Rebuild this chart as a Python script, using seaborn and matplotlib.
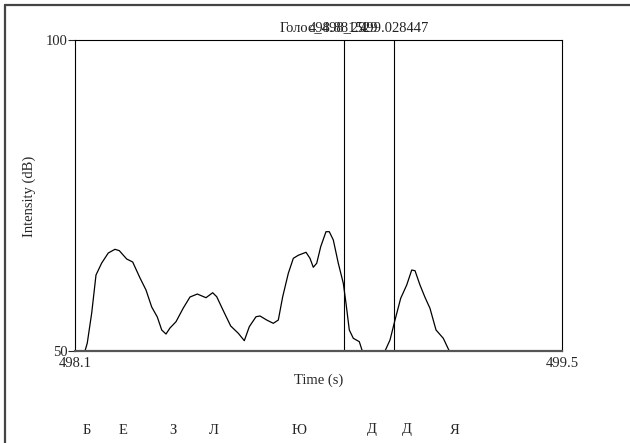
import matplotlib
matplotlib.use("Agg")
import matplotlib.pyplot as plt
from matplotlib.lines import Line2D
import seaborn as sns

# Intensity contour (time in s, intensity in dB)
time_s = [498.0911, 498.1205, 498.1272, 498.1402, 498.1528, 498.1696, 498.1889, 498.2086,
          498.2213, 498.2430, 498.2606, 498.2821, 498.2997, 498.3165, 498.3329, 498.3459,
          498.3585, 498.3702, 498.3879, 498.4093, 498.4290, 498.4505, 498.4760, 498.4957,
          498.5075, 498.5269, 498.5486, 498.5709, 498.5886, 498.6033, 498.6230, 498.6347,
          498.6544, 498.6738, 498.6885, 498.7014, 498.7179, 498.7326, 498.7472, 498.7699,
          498.7816, 498.7913, 498.8013, 498.8131, 498.8286, 498.8383, 498.8501, 498.8648,
          498.8795, 498.8874, 498.8971, 498.9089, 498.9265, 498.9353, 499.0020, 499.0167,
          499.0314, 499.0481, 499.0658, 499.0805, 499.0902, 499.1048, 499.1195, 499.1342,
          499.1519, 499.1733, 499.1909, 499.5221]
intensity_db = [50.0, 50.0, 51.29, 56.11, 62.22, 64.15, 65.76, 66.35,
                66.13, 64.79, 64.31, 61.74, 59.81, 57.07, 55.47, 53.38,
                52.73, 53.70, 54.71, 56.91, 58.68, 59.16, 58.57, 59.37,
                58.73, 56.48, 54.02, 52.85, 51.66, 53.91, 55.51, 55.63,
                54.98, 54.45, 54.98, 58.73, 62.49, 64.90, 65.39, 65.87,
                64.90, 63.46, 64.10, 66.77, 69.18, 69.18, 67.85, 64.10,
                60.88, 57.67, 53.38, 52.04, 51.50, 50.0, 50.0, 51.77,
                54.98, 58.47, 60.61, 63.02, 62.91, 60.61, 58.63, 56.86,
                53.38, 52.04, 50.0, 50.0]

x_range = [498.0911, 499.5221]
x_tick_labels = ["498.1", "499.5"]
y_range = [50, 100]
y_tick_labels = ["100", "50"]

boundaries = [498.881529, 499.028447]
boundary_labels = ["498.881529", "499.028447"]
tier_name = "Голос_498_29"

letters = ["Б", "Е", "З", "Л", "Ю", "Д", "Д", "Я"]
letter_px = [87, 123, 173, 214, 299, 372, 407, 455]

sns.set_style("white")
plt.rcParams["font.family"] = ["Liberation Serif", "DejaVu Serif"]
plt.rcParams["font.size"] = 10

fs = 10.5

fig = plt.figure(figsize=(6.3, 4.43), dpi=100)
ax = fig.add_axes([75 / 630, 1 - 351 / 443, 487 / 630, 311 / 443])

sns.lineplot(x=time_s, y=intensity_db, ax=ax, color="black", linewidth=0.9,
             sort=False, estimator=None)

for b in boundaries:
    ax.axvline(b, color="black", linewidth=0.8)
for b, lab in zip(boundaries, boundary_labels):
    ax.text(b, 1.015, lab, transform=ax.get_xaxis_transform(), ha="center",
            va="bottom", fontsize=fs, color="#222222")
ax.text(280 / 630, 1 - 28 / 443, tier_name, transform=fig.transFigure,
        ha="left", va="center", fontsize=fs, color="#222222")

ax.set_xlim(x_range)
ax.set_ylim(y_range)
ax.set_xticks(x_range)
ax.set_xticklabels(x_tick_labels)
ax.set_yticks([100, 50])
ax.set_yticklabels(y_tick_labels)
ax.tick_params(axis="x", length=0, pad=4.5, labelsize=fs)
ax.tick_params(axis="y", length=5, width=0.8, pad=0, labelsize=fs, left=True)
for s in ax.spines.values():
    s.set_color("black")
    s.set_linewidth(0.8)
ax.spines["bottom"].set_color("#555555")
ax.spines["bottom"].set_linewidth(1.6)

ax.set_xlabel("")
ax.set_ylabel("")
fig.text(319 / 630, 1 - 380 / 443, "Time (s)", ha="center", va="center", fontsize=fs)
fig.text(29 / 630, 1 - 196 / 443, "Intensity (dB)", ha="center", va="center",
         rotation=90, fontsize=fs)

for ch, px in zip(letters, letter_px):
    fig.text(px / 630, 1 - 430 / 443, ch, ha="center", va="center", fontsize=fs)

# page frame
fig.add_artist(Line2D([5 / 630, 5 / 630], [0, 1 - 5 / 443], transform=fig.transFigure,
                      color="#444444", linewidth=1.6))
fig.add_artist(Line2D([5 / 630, 1], [1 - 5 / 443, 1 - 5 / 443], transform=fig.transFigure,
                      color="#444444", linewidth=1.6))

fig.savefig("out.png", dpi=100)
